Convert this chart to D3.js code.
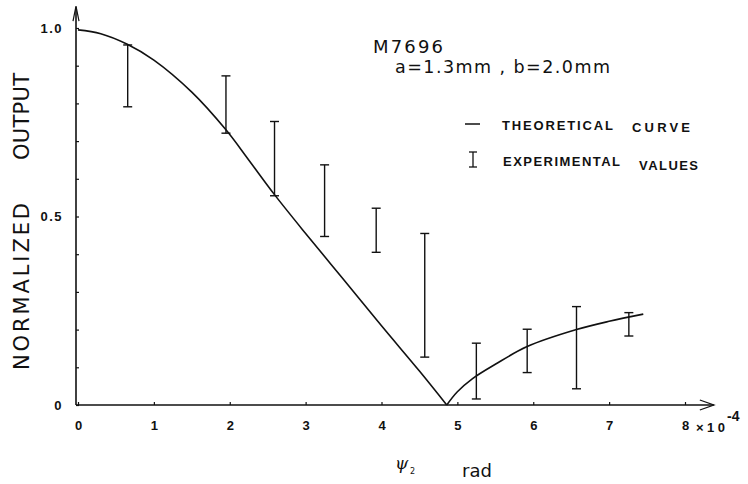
<!DOCTYPE html>
<html>
<head>
<meta charset="utf-8">
<script src="https://cdn.jsdelivr.net/npm/d3@7"></script>
<style>
  html, body { margin: 0; padding: 0; background: #fff; }
  svg { display: block; }
  text { fill: #111; }
</style>
</head>
<body>
<svg id="chart" width="748" height="484"></svg>
<script>
// ---- data ----
const curveX = [0, 0.3, 0.65, 1.0, 1.5, 1.95, 2.25, 2.59, 3.0, 3.5, 4.0, 4.5, 4.86, 5.0, 5.2, 5.5, 5.92, 6.57, 7.0, 7.45];
const curveY = [0.995, 0.985, 0.957, 0.915, 0.83, 0.73, 0.65, 0.558, 0.455, 0.333, 0.21, 0.09, 0.0, 0.035, 0.07, 0.108, 0.155, 0.2, 0.222, 0.241];

const errX    = [0.655, 1.95, 2.59, 3.25, 3.93, 4.57, 5.25, 5.92, 6.57, 7.26];
const errHigh = [0.955, 0.873, 0.752, 0.637, 0.522, 0.455, 0.164, 0.201, 0.261, 0.245];
const errLow  = [0.791, 0.721, 0.555, 0.447, 0.405, 0.127, 0.016, 0.086, 0.043, 0.183];

const xTickValues = [0, 1, 2, 3, 4, 5, 6, 7, 8];
const yTickValues = [0, 0.1, 0.2, 0.3, 0.4, 0.5, 0.6, 0.7, 0.8, 0.9, 1.0];
const yTickLabels = {0: "0", 0.5: "0.5", 1: "1.0"};

const svg = d3.select("#chart");
const x = d3.scaleLinear().domain([0, 8]).range([78, 685]);
const y = d3.scaleLinear().domain([0, 1]).range([405, 28]);

const ink = "#111";
const lf = "Liberation Sans, Arial, sans-serif";
const sans = "DejaVu Sans, Noto Sans, sans-serif";

// ---- axes ----
const yAxis = d3.axisLeft(y)
  .tickValues(yTickValues)
  .tickSize(-3)
  .tickPadding(13)
  .tickFormat(d => { const k = Math.round(d * 10) / 10; return yTickLabels[k] !== undefined ? yTickLabels[k] : ""; });
const gy = svg.append("g").attr("transform", "translate(76,0)").call(yAxis);
gy.select(".domain").remove();
gy.selectAll(".tick line").attr("stroke", ink).attr("stroke-width", 1.2);
gy.selectAll(".tick text").attr("font-family", lf)
  .attr("font-weight", "bold").attr("font-size", 13).attr("letter-spacing", 1.5).attr("fill", ink);

const xAxis = d3.axisBottom(x)
  .tickValues(xTickValues)
  .tickSize(-3)
  .tickPadding(16)
  .tickFormat(d => String(d));
const gx = svg.append("g").attr("transform", "translate(0,405)").call(xAxis);
gx.select(".domain").remove();
gx.selectAll(".tick line").attr("stroke", ink).attr("stroke-width", 1.2);
gx.selectAll(".tick text").attr("font-family", lf)
  .attr("font-weight", "bold").attr("font-size", 13).attr("fill", ink);

// axis lines with arrows
const xEnd = x(8.38), yTop = y(1.05);
svg.append("line").attr("x1", 76).attr("y1", y(0)).attr("x2", xEnd).attr("y2", y(0))
  .attr("stroke", ink).attr("stroke-width", 1.6);
svg.append("path")
  .attr("d", `M${xEnd - 14},${y(0) - 5} L${xEnd},${y(0)} L${xEnd - 14},${y(0) + 5}`)
  .attr("fill", "none").attr("stroke", ink).attr("stroke-width", 1.3);
svg.append("line").attr("x1", 76).attr("y1", y(0)).attr("x2", 76).attr("y2", yTop - 2)
  .attr("stroke", ink).attr("stroke-width", 1.6);
svg.append("path")
  .attr("d", `M${73},${yTop + 12} L${76},${yTop - 3} L${79},${yTop + 12}`)
  .attr("fill", "none").attr("stroke", ink).attr("stroke-width", 1.2);

// ---- theoretical curve (two branches meeting at the zero) ----
const pts = curveX.map((d, i) => [d, curveY[i]]);
const zi = curveY.indexOf(d3.min(curveY));
const line = d3.line().x(d => x(d[0])).y(d => y(d[1])).curve(d3.curveCatmullRom);
svg.append("path").attr("d", line(pts.slice(0, zi + 1)))
  .attr("fill", "none").attr("stroke", ink).attr("stroke-width", 1.6);
svg.append("path").attr("d", line(pts.slice(zi)))
  .attr("fill", "none").attr("stroke", ink).attr("stroke-width", 1.6);

// ---- error bars ----
const cap = 4.5;
const eb = svg.append("g").attr("stroke", ink).attr("stroke-width", 1.4);
errX.forEach((d, i) => {
  const cx = x(d);
  eb.append("line").attr("x1", cx).attr("x2", cx).attr("y1", y(errHigh[i])).attr("y2", y(errLow[i]));
  eb.append("line").attr("x1", cx - cap).attr("x2", cx + cap).attr("y1", y(errHigh[i])).attr("y2", y(errHigh[i]));
  eb.append("line").attr("x1", cx - cap).attr("x2", cx + cap).attr("y1", y(errLow[i])).attr("y2", y(errLow[i]));
});

// ---- annotations ----
svg.append("text").attr("x", 373).attr("y", 53).attr("font-family", sans).attr("font-size", 18)
  .attr("textLength", 70).attr("lengthAdjust", "spacing").text("M7696");
svg.append("text").attr("x", 395).attr("y", 73).attr("font-family", sans).attr("font-size", 17.5)
  .attr("textLength", 215).attr("lengthAdjust", "spacing").text("a=1.3mm , b=2.0mm");

// legend
const lg = svg.append("g");
lg.append("line").attr("x1", 465).attr("x2", 480).attr("y1", 124).attr("y2", 124)
  .attr("stroke", ink).attr("stroke-width", 1.5);
lg.append("line").attr("x1", 473).attr("x2", 473).attr("y1", 152).attr("y2", 167).attr("stroke", ink).attr("stroke-width", 1.3);
lg.append("line").attr("x1", 469).attr("x2", 477).attr("y1", 152).attr("y2", 152).attr("stroke", ink).attr("stroke-width", 1.3);
lg.append("line").attr("x1", 469).attr("x2", 477).attr("y1", 167).attr("y2", 167).attr("stroke", ink).attr("stroke-width", 1.3);
[["THEORETICAL", 502, 130, 111], ["CURVE", 632, 132, 58],
 ["EXPERIMENTAL", 503, 166, 117], ["VALUES", 639, 170, 59]].forEach(t => {
  lg.append("text").attr("x", t[1]).attr("y", t[2]).attr("font-family", lf).attr("font-weight", "bold")
    .attr("font-size", 13).attr("textLength", t[3]).attr("lengthAdjust", "spacing").text(t[0]);
});

// y title
svg.append("text").attr("transform", "translate(29,370) rotate(-90)")
  .attr("font-family", sans).attr("font-size", 21)
  .attr("textLength", 167).attr("lengthAdjust", "spacing").text("NORMALIZED");
svg.append("text").attr("transform", "translate(29,160) rotate(-90)")
  .attr("font-family", sans).attr("font-size", 21)
  .attr("textLength", 87).attr("lengthAdjust", "spacing").text("OUTPUT");

// x title
svg.append("text").attr("x", 395).attr("y", 469).attr("font-family", "DejaVu Serif, serif")
  .attr("font-size", 17).attr("font-style", "italic").text("ψ");
svg.append("text").attr("x", 410).attr("y", 474).attr("font-family", sans).attr("font-size", 8).text("2");
svg.append("text").attr("x", 462).attr("y", 477).attr("font-family", sans).attr("font-size", 18)
  .attr("textLength", 30).attr("lengthAdjust", "spacing").text("rad");

// x10^-4 multiplier
svg.append("text").attr("x", 696).attr("y", 432).attr("font-family", lf).attr("font-weight", "bold")
  .attr("font-size", 13).attr("textLength", 29).attr("lengthAdjust", "spacing").text("×10");
svg.append("text").attr("x", 727).attr("y", 421).attr("font-family", lf).attr("font-weight", "bold")
  .attr("font-size", 14).text("-4");
</script>
</body>
</html>
